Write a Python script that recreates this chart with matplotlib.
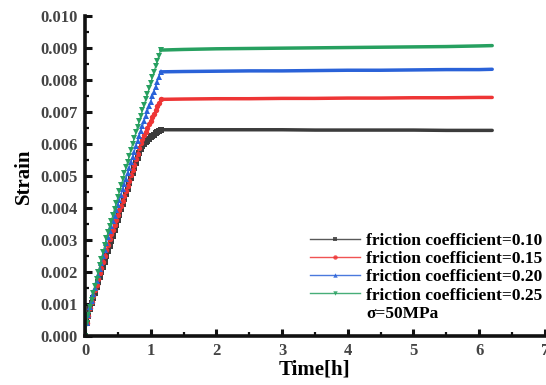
import matplotlib
matplotlib.use("Agg")
import matplotlib.pyplot as plt
from matplotlib.lines import Line2D
from matplotlib.ticker import MultipleLocator, FormatStrFormatter

# Time axis: loading ramp (dense sampling) followed by the holding stage
ramp_time = [0, 0.025, 0.05, 0.075, 0.1, 0.125, 0.15, 0.175, 0.2, 0.225, 0.25,
             0.275, 0.3, 0.325, 0.35, 0.375, 0.4, 0.425, 0.45, 0.475, 0.5,
             0.525, 0.55, 0.575, 0.6, 0.625, 0.65, 0.675, 0.7, 0.725, 0.75,
             0.775, 0.8, 0.825, 0.85, 0.875, 0.9, 0.925, 0.95, 0.975, 1.0,
             1.025, 1.05, 1.075, 1.1, 1.125, 1.15]
hold_time = [1.5, 2.0, 2.5, 3.0, 3.5, 4.0, 4.5, 5.0, 5.5, 6.0, 6.2]

# Strain values in units of 1e-3
ramp_010 = [0, 0.40, 0.63, 0.86, 1.03, 1.19, 1.36, 1.52, 1.68, 1.84, 2.01,
            2.17, 2.33, 2.49, 2.66, 2.82, 2.98, 3.14, 3.31, 3.47, 3.63,
            3.79, 3.96, 4.12, 4.28, 4.44, 4.61, 4.77, 4.93, 5.09, 5.26,
            5.42, 5.58, 5.72, 5.84, 5.93, 6.00, 6.06, 6.11, 6.16, 6.22,
            6.26, 6.30, 6.34, 6.38, 6.42, 6.45]
hold_010 = [6.45, 6.45, 6.45, 6.45, 6.44, 6.44, 6.44, 6.44, 6.43, 6.43, 6.43]

ramp_015 = [0, 0.40, 0.64, 0.88, 1.07, 1.25, 1.43, 1.61, 1.79, 1.97, 2.14,
            2.32, 2.50, 2.68, 2.86, 3.03, 3.18, 3.33, 3.48, 3.63, 3.78,
            3.93, 4.08, 4.23, 4.38, 4.53, 4.69, 4.86, 5.03, 5.20, 5.36,
            5.53, 5.70, 5.87, 6.03, 6.17, 6.28, 6.39, 6.50, 6.62, 6.73,
            6.84, 6.95, 7.06, 7.18, 7.29, 7.40]
hold_015 = [7.41, 7.42, 7.42, 7.43, 7.43, 7.44, 7.44, 7.45, 7.45, 7.46, 7.46]

ramp_020 = [0, 0.40, 0.65, 0.90, 1.11, 1.31, 1.51, 1.71, 1.91, 2.10, 2.30,
            2.50, 2.70, 2.90, 3.10, 3.27, 3.43, 3.60, 3.76, 3.93, 4.09,
            4.26, 4.42, 4.59, 4.75, 4.92, 5.09, 5.26, 5.43, 5.60, 5.76,
            5.93, 6.10, 6.25, 6.41, 6.56, 6.72, 6.87, 7.03, 7.18, 7.33,
            7.49, 7.64, 7.80, 7.95, 8.11, 8.26]
hold_020 = [8.27, 8.28, 8.29, 8.29, 8.30, 8.31, 8.31, 8.32, 8.33, 8.33, 8.34]

ramp_025 = [0, 0.40, 0.66, 0.92, 1.14, 1.35, 1.57, 1.78, 2.00, 2.21, 2.42,
            2.63, 2.84, 3.06, 3.25, 3.43, 3.61, 3.79, 3.98, 4.16, 4.34,
            4.52, 4.71, 4.90, 5.09, 5.27, 5.45, 5.64, 5.83, 6.02, 6.20,
            6.37, 6.54, 6.72, 6.89, 7.06, 7.23, 7.40, 7.57, 7.74, 7.92,
            8.09, 8.26, 8.43, 8.60, 8.77, 8.94]
hold_025 = [8.96, 8.98, 8.99, 9.00, 9.01, 9.02, 9.03, 9.04, 9.05, 9.07, 9.08]

labels = ["friction coefficient=0.10", "friction coefficient=0.15",
          "friction coefficient=0.20", "friction coefficient=0.25"]
condition = "σ=50MPa"
x_ticks = [0, 1, 2, 3, 4, 5, 6, 7]

series = [(ramp_010, hold_010, "#3c3c3c", "s"),
          (ramp_015, hold_015, "#ee3535", "o"),
          (ramp_020, hold_020, "#2a62d8", "^"),
          (ramp_025, hold_025, "#27a060", "v")]

serif = ["Liberation Serif", "DejaVu Serif"]
plt.rcParams["font.family"] = serif
plt.rcParams["font.weight"] = "bold"

fig = plt.figure(figsize=(5.46, 3.85), dpi=100)
ax = fig.add_axes([0.1557, 0.127, 0.842, 0.831])

handles = []
for (ramp, hold, color, marker), label in zip(series, labels):
    ramp_s = [v / 1000.0 for v in ramp]
    hold_s = [v / 1000.0 for v in ramp[-1:] + hold]
    # loading stage: thin line with closely spaced markers
    ax.plot(ramp_time, ramp_s, color=color, lw=0.8, marker=marker, ms=3.9,
            markeredgewidth=0)
    # holding stage: solid line
    ax.plot(ramp_time[-1:] + hold_time, hold_s, color=color, lw=2.5,
            solid_capstyle="round")
    handles.append(Line2D([], [], color=color, lw=1.0, marker=marker,
                          ms=3.2, markeredgewidth=0, alpha=0.85, label=label))
handles.append(Line2D([], [], color="none", label=condition))

ax.set_xlim(0, 7)
ax.set_ylim(0, 0.010)
ax.set_xticks(x_ticks)
ax.xaxis.set_minor_locator(MultipleLocator(0.5))
ax.yaxis.set_major_locator(MultipleLocator(0.001))
ax.yaxis.set_minor_locator(MultipleLocator(0.0005))
ax.yaxis.set_major_formatter(FormatStrFormatter("%.3f"))

for side in ("top", "right"):
    ax.spines[side].set_visible(False)
for side in ("left", "bottom"):
    ax.spines[side].set_linewidth(2.6)
    ax.spines[side].set_color("#111111")

ax.tick_params(which="major", direction="in", length=5, width=2.2,
               labelsize=12, labelcolor="#444444", color="#111111", pad=5)
ax.tick_params(which="minor", direction="in", length=3, width=1.6,
               color="#111111")

ax.set_xlabel("Time[h]", fontsize=15, fontweight="bold", labelpad=0)
ax.set_ylabel("Strain", fontsize=15, fontweight="bold", labelpad=5)

leg = ax.legend(handles=handles, loc="upper right",
                bbox_to_anchor=(1.01, 0.345), frameon=False,
                fontsize=12.5, handlelength=2.9, handletextpad=0.35,
                labelspacing=0.12, borderaxespad=0.0, numpoints=1)

fig.savefig("out.png", dpi=100)
